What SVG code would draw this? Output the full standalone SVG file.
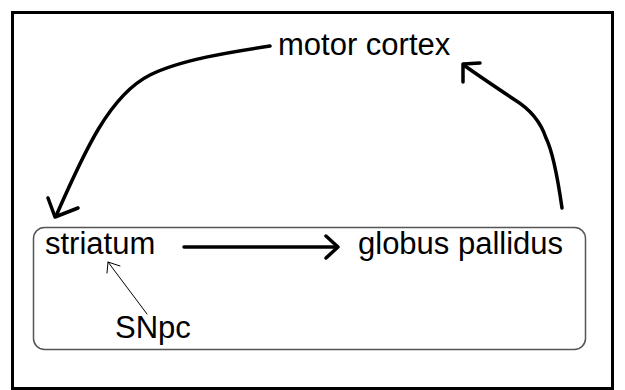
<svg xmlns="http://www.w3.org/2000/svg" width="625" height="390" viewBox="0 0 625 390">
<style>
text{font-family:"Liberation Sans",Arial,sans-serif;font-size:31px;fill:#000}
.thick{fill:none;stroke:#000;stroke-width:3.5;stroke-linecap:round;stroke-linejoin:round}
.thin{fill:none;stroke:#000;stroke-width:1;stroke-linecap:round}
</style>
<rect x="0" y="0" width="625" height="390" fill="#fff"/>
<rect x="12.5" y="12.5" width="600" height="376" fill="none" stroke="#000" stroke-width="3"/>
<g id="box">
<rect x="33.5" y="227.5" width="552" height="122" rx="11" fill="none" stroke="#555" stroke-width="1.5"/>
</g>
<g id="motor-cortex"><text x="278" y="55">motor cortex</text></g>
<g id="striatum"><text x="45" y="254">striatum</text></g>
<g id="globus-pallidus"><text x="358" y="254">globus pallidus</text></g>
<g id="snpc"><text x="115" y="338">SNpc</text></g>
<g id="connectors">
<path class="thick" d="M270,46 C230,52 180,60 150,75 C110,95 85,150 56,216"/>
<path class="thick" d="M48,198 L55,217 L78,208"/>
<path class="thick" d="M562,208 C558,180 552,150 546,138 C540,120 528,108 515,100 C500,90 482,78 465,66"/>
<path class="thick" d="M463,82 L463,64 L480,63"/>
<path class="thick" d="M184,247 L336,247"/>
<path class="thick" d="M326,236 L338,247 L326,258"/>
<path class="thin" d="M147,314 L108,262"/>
<path class="thin" d="M107,273 L108,262 L120,266"/>
</g>
</svg>
